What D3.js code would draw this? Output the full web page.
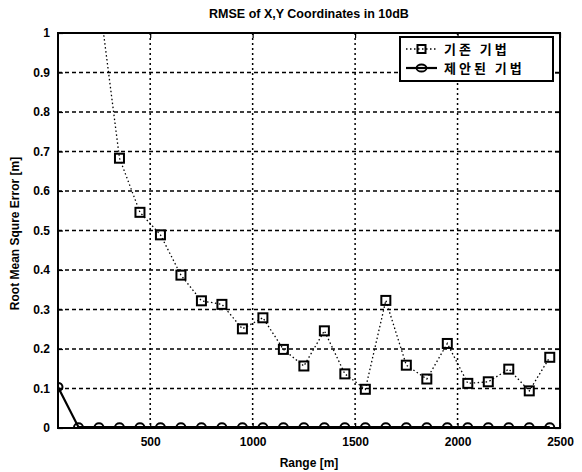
<!DOCTYPE html>
<html>
<head>
<meta charset="utf-8">
<script src="https://cdn.jsdelivr.net/npm/d3@7"></script>
<style>
  html, body { margin: 0; padding: 0; background: #fff; }
  svg { display: block; }
  text { font-family: "Liberation Sans Narrow", "Liberation Sans", Arial, sans-serif; font-weight: bold; fill: #000; }
</style>
</head>
<body>
<div id="chart"></div>
<script>
// ---- data ----
const ranges = [50, 150, 250, 350, 450, 550, 650, 750, 850, 950, 1050, 1150, 1250,
                1350, 1450, 1550, 1650, 1750, 1850, 1950, 2050, 2150, 2250, 2350, 2450];
const conventional = [2.6, 1.7, 1.09, 0.683, 0.546, 0.489, 0.387, 0.322, 0.313, 0.251, 0.279, 0.199, 0.157,
                      0.246, 0.137, 0.098, 0.323, 0.159, 0.124, 0.214, 0.113, 0.117, 0.149, 0.094, 0.179];
const proposed = [0.104, 0.002, 0.002, 0.002, 0.002, 0.002, 0.002, 0.002, 0.002, 0.002, 0.002, 0.002, 0.002,
                  0.002, 0.002, 0.002, 0.002, 0.002, 0.002, 0.002, 0.002, 0.002, 0.002, 0.002, 0.002];
const xTicks = [500, 1000, 1500, 2000, 2500];
const yTicks = [0, 0.1, 0.2, 0.3, 0.4, 0.5, 0.6, 0.7, 0.8, 0.9, 1];
const seriesNames = ["기존 기법", "제안된 기법"];
const titleText = "RMSE of X,Y Coordinates in 10dB";
const xLabel = "Range [m]";
const yLabel = "Root Mean Squre Error [m]";

// ---- layout ----
const W = 582, H = 472;
const m = { left: 58, right: 22, top: 33, bottom: 44 };
const iw = W - m.left - m.right, ih = H - m.top - m.bottom;

const svg = d3.select("#chart").append("svg").attr("width", W).attr("height", H);
const g = svg.append("g").attr("transform", `translate(${m.left},${m.top})`);

const x = d3.scaleLinear().domain([50, 2500]).range([0, iw]);
const y = d3.scaleLinear().domain([0, 1]).range([ih, 0]);

svg.append("defs").append("clipPath").attr("id", "clip")
  .append("rect").attr("x", -1).attr("y", -1).attr("width", iw + 2).attr("height", ih + 2);

// grid
g.append("g").selectAll("line").data(yTicks.filter(d => d > 0 && d < 1)).join("line")
  .attr("x1", 0).attr("x2", iw).attr("y1", d => y(d)).attr("y2", d => y(d))
  .attr("stroke", "#000").attr("stroke-width", 1.5).attr("stroke-dasharray", "4,3");
g.append("g").selectAll("line").data(xTicks.filter(d => d < 2500)).join("line")
  .attr("y1", 0).attr("y2", ih).attr("x1", d => x(d)).attr("x2", d => x(d))
  .attr("stroke", "#000").attr("stroke-width", 1.5).attr("stroke-dasharray", "2,3");

// axes
const xAxis = d3.axisBottom(x).tickValues(xTicks).tickSizeInner(-5).tickSizeOuter(0).tickPadding(9)
  .tickFormat(d3.format("d"));
const yAxis = d3.axisLeft(y).tickValues(yTicks).tickSizeInner(-5).tickSizeOuter(0).tickPadding(8)
  .tickFormat(d => d === 0 ? "0" : d === 1 ? "1" : d3.format(".1f")(d));
const gx = g.append("g").attr("transform", `translate(0,${ih})`).call(xAxis);
const gy = g.append("g").call(yAxis);
[gx, gy].forEach(a => {
  a.select(".domain").remove();
  a.selectAll("line").attr("stroke", "#000").attr("stroke-width", 1.2);
  a.selectAll("text").style("font-size", "12px").style("font-weight", "bold")
    .style("font-family", "'Liberation Sans Narrow','Liberation Sans',Arial,sans-serif");
});
// opposite ticks
g.append("g").call(d3.axisTop(x).tickValues(xTicks).tickSizeInner(-5).tickSizeOuter(0).tickFormat(""))
  .call(a => { a.select(".domain").remove(); a.selectAll("line").attr("stroke", "#000").attr("stroke-width", 1.2); });
g.append("g").attr("transform", `translate(${iw},0)`)
  .call(d3.axisRight(y).tickValues(yTicks).tickSizeInner(-5).tickSizeOuter(0).tickFormat(""))
  .call(a => { a.select(".domain").remove(); a.selectAll("line").attr("stroke", "#000").attr("stroke-width", 1.2); });

// box
g.append("rect").attr("x", 0).attr("y", 0).attr("width", iw).attr("height", ih)
  .attr("fill", "none").attr("stroke", "#000").attr("stroke-width", 2);

// series
const plot = g.append("g").attr("clip-path", "url(#clip)");
const line = d3.line().x(d => x(d[0])).y(d => y(d[1]));
const convData = ranges.map((r, i) => [r, conventional[i]]);
const propData = ranges.map((r, i) => [r, proposed[i]]);

plot.append("path").datum(convData).attr("d", line).attr("fill", "none")
  .attr("stroke", "#000").attr("stroke-width", 1.3).attr("stroke-dasharray", "1.5,2.5");
plot.append("g").selectAll("rect").data(convData).join("rect")
  .attr("x", d => x(d[0]) - 4.5).attr("y", d => y(d[1]) - 4.5)
  .attr("width", 9).attr("height", 9)
  .attr("fill", "none").attr("stroke", "#000").attr("stroke-width", 2);

plot.append("path").datum(propData).attr("d", line).attr("fill", "none")
  .attr("stroke", "#000").attr("stroke-width", 2.2);
plot.append("g").selectAll("ellipse").data(propData).join("ellipse")
  .attr("cx", d => x(d[0])).attr("cy", d => y(d[1]))
  .attr("rx", 4.5).attr("ry", 4)
  .attr("fill", "none").attr("stroke", "#000").attr("stroke-width", 2);

// title and labels
svg.append("text").attr("x", m.left + iw / 2).attr("y", 18).attr("text-anchor", "middle")
  .style("font-size", "12.5px").text(titleText);
svg.append("text").attr("x", m.left + iw / 2).attr("y", 467).attr("text-anchor", "middle")
  .style("font-size", "12px").text(xLabel);
svg.append("text").attr("transform", `translate(19,${m.top + ih / 2 + 3}) rotate(-90)`)
  .attr("text-anchor", "middle").style("font-size", "12px").text(yLabel);

// legend
const lg = svg.append("g").attr("transform", "translate(400,37)");
lg.append("rect").attr("x", 0).attr("y", 0).attr("width", 153).attr("height", 44)
  .attr("fill", "#fff").attr("stroke", "#000").attr("stroke-width", 2);
const rows = [
  { name: seriesNames[0], dash: "1.5,2.5", sw: 1.3, marker: "square" },
  { name: seriesNames[1], dash: null, sw: 2.2, marker: "circle" }
];
rows.forEach((r, i) => {
  const cy = 12 + i * 19;
  lg.append("line").attr("x1", 6).attr("x2", 37).attr("y1", cy).attr("y2", cy)
    .attr("stroke", "#000").attr("stroke-width", r.sw).attr("stroke-dasharray", r.dash);
  if (r.marker === "square") {
    lg.append("rect").attr("x", 21.5 - 4).attr("y", cy - 4).attr("width", 8).attr("height", 8)
      .attr("fill", "none").attr("stroke", "#000").attr("stroke-width", 2);
  } else {
    lg.append("ellipse").attr("cx", 21.5).attr("cy", cy).attr("rx", 5).attr("ry", 3.5)
      .attr("fill", "none").attr("stroke", "#000").attr("stroke-width", 1.8);
  }
  lg.append("text").attr("x", 44).attr("y", cy + 5)
    .style("font-family", "'Noto Sans CJK KR', sans-serif").style("font-size", "13px").style("font-weight", "bold")
    .style("letter-spacing", "3px")
    .text(r.name);
});
</script>
</body>
</html>
